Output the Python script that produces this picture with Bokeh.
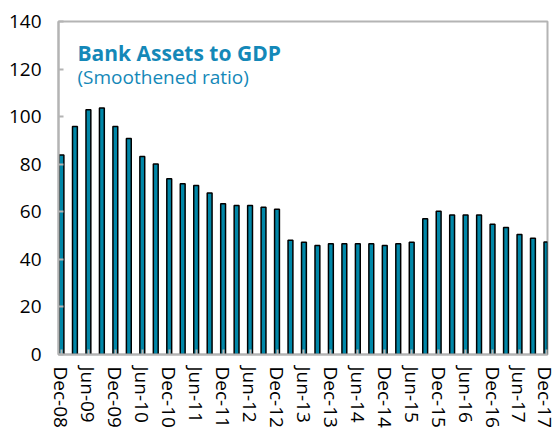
from bokeh.plotting import figure
from bokeh.models import Range1d, FixedTicker, Label, ColumnDataSource
from bokeh.embed import file_html
from bokeh.resources import INLINE

# Quarterly bank assets to GDP (smoothened ratio), Dec-08 .. Dec-17
quarters = ["Dec-08", "Mar-09", "Jun-09", "Sep-09", "Dec-09", "Mar-10", "Jun-10", "Sep-10",
            "Dec-10", "Mar-11", "Jun-11", "Sep-11", "Dec-11", "Mar-12", "Jun-12", "Sep-12",
            "Dec-12", "Mar-13", "Jun-13", "Sep-13", "Dec-13", "Mar-14", "Jun-14", "Sep-14",
            "Dec-14", "Mar-15", "Jun-15", "Sep-15", "Dec-15", "Mar-16", "Jun-16", "Sep-16",
            "Dec-16", "Mar-17", "Jun-17", "Sep-17", "Dec-17"]
values = [83.9, 95.9, 102.9, 103.6, 95.9, 90.8, 83.2, 80.1,
          73.9, 71.8, 71.0, 67.9, 63.4, 62.6, 62.6, 61.9,
          61.1, 48.0, 47.2, 45.8, 46.6, 46.6, 46.6, 46.6,
          45.8, 46.6, 47.2, 57.1, 60.2, 58.7, 58.7, 58.7,
          54.8, 53.4, 50.4, 48.9, 47.3]
tick_labels = quarters[::2]
y_ticks = [0, 20, 40, 60, 80, 100, 120, 140]

TEAL = "#0087A8"
TITLE_COLOR = "#1488B8"
GRAY = "#B4B4B4"
FONT = "Open Sans"

idx = list(range(len(values)))
src = ColumnDataSource(dict(x=idx, top=values))

p = figure(width=557, height=431, output_backend="svg", toolbar_location=None,
           x_range=Range1d(-0.22, 36.08), y_range=Range1d(0, 140),
           min_border_left=58, min_border_right=10, min_border_top=21, min_border_bottom=77)
p.vbar(x="x", top="top", width=0.36, source=src, fill_color=TEAL,
       line_color="black", line_width=1.5)

p.xgrid.visible = False
p.ygrid.visible = False
p.outline_line_color = GRAY
p.outline_line_width = 2

# Y axis
p.yaxis.ticker = FixedTicker(ticks=y_ticks)
p.yaxis.minor_tick_line_color = None
p.yaxis.major_tick_in = 5
p.yaxis.major_tick_out = 0
p.yaxis.major_tick_line_color = GRAY
p.yaxis.major_tick_line_width = 2
p.yaxis.axis_line_color = GRAY
p.yaxis.axis_line_width = 2
p.yaxis.major_label_text_font = FONT
p.yaxis.major_label_text_font_size = "19px"
p.yaxis.major_label_text_color = "black"
p.yaxis.major_label_standoff = 17

# X axis
tick_pos = [i for i in idx if i % 2 == 0]
p.xaxis.ticker = FixedTicker(ticks=tick_pos)
p.xaxis.major_label_overrides = {i: lab for i, lab in zip(tick_pos, tick_labels)}
p.xaxis.minor_tick_line_color = None
p.xaxis.major_tick_in = 5
p.xaxis.major_tick_out = 0
p.xaxis.major_tick_line_color = GRAY
p.xaxis.major_tick_line_width = 2
p.xaxis.axis_line_color = GRAY
p.xaxis.axis_line_width = 2
p.xaxis.major_label_orientation = "vertical"
p.xaxis.major_label_text_font = FONT
p.xaxis.major_label_text_font_size = "19px"
p.xaxis.major_label_text_color = "black"
p.xaxis.major_label_standoff = 12

p.add_layout(Label(x=1.19, y=126.8, text="Bank Assets to GDP", text_font=FONT,
                   text_font_size="21px", text_font_style="bold", text_color=TITLE_COLOR,
                   text_baseline="alphabetic"))
p.add_layout(Label(x=1.19, y=116.6, text="(Smoothened ratio)", text_font=FONT,
                   text_font_size="19px", text_color=TITLE_COLOR,
                   text_baseline="alphabetic"))

open("out.html", "w").write(file_html(p, INLINE))
